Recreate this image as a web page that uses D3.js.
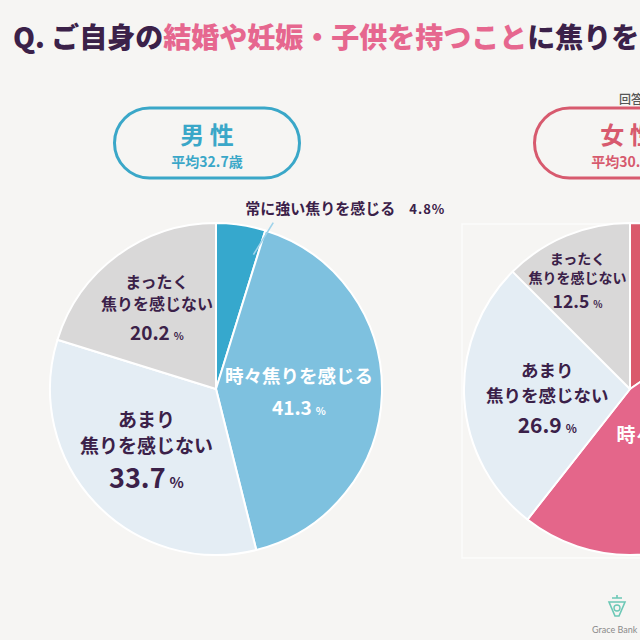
<!DOCTYPE html>
<html><head><meta charset="utf-8">
<script src="https://cdn.jsdelivr.net/npm/d3@7/dist/d3.min.js"></script>
<style>
html,body{margin:0;padding:0;background:#f6f5f3;}
svg{display:block;font-family:"Noto Sans CJK JP","Noto Sans",sans-serif;}
</style></head><body>
<svg id="c" width="640" height="640"></svg>
<script>
// ---- data ----
const categories = ["常に強い焦りを感じる", "時々焦りを感じる", "あまり焦りを感じない", "まったく焦りを感じない"];
const maleValues = [4.8, 41.3, 33.7, 20.2];
const femaleValues = [15.4, 45.2, 26.9, 12.5];
const groupNames = ["男 性", "女 性"];
const groupAges = ["平均32.7歳", "平均30.4歳"];

// ---- styles ----
const bg = "#f6f5f3";
const textDark = "#3b2149";
const maleColors = ["#36a8cd", "#7ec1df", "#e4edf4", "#d9d8d8"];
const femaleColors = ["#da5a6c", "#e4668a", "#e4edf4", "#d9d8d8"];
const W = 640, H = 640;
const svg = d3.select("#c");
svg.append("rect").attr("width", W).attr("height", H).attr("fill", bg);

// Title
const title = svg.append("text").attr("x", 13).attr("y", 48)
  .attr("font-size", 28).attr("font-weight", 900).attr("fill", textDark);
title.append("tspan").text("Q. ご自身の");
title.append("tspan").attr("fill", "#e6678f").text("結婚や妊娠・子供を持つこと");
title.append("tspan").text("に焦りを");

svg.append("text").attr("x", 619).attr("y", 104).attr("font-size", 12)
  .attr("font-weight", 500).attr("fill", "#555").text("回答");

// female panel faint outline
svg.append("rect").attr("x", 462).attr("y", 224).attr("width", 260).attr("height", 334)
  .attr("fill", "none").attr("stroke", "#fcfcfb").attr("stroke-width", 1.5);

const R = 166;
const pie = d3.pie().sort(null).value(d => d);
const arc = d3.arc().innerRadius(0).outerRadius(R);

function drawGroup(cx, cy, values, colors, headerCx, headerColor, idx, labelCfg) {
  const g = svg.append("g").attr("transform", `translate(${cx},${cy})`);
  const arcs = pie(values);
  g.selectAll("path").data(arcs).join("path")
    .attr("d", arc).attr("fill", (d, i) => colors[i])
    .attr("stroke", "#ffffff").attr("stroke-width", 2).attr("stroke-linejoin", "round");

  // header pill
  const pw = 185, ph = 70;
  svg.append("rect").attr("x", headerCx - pw / 2).attr("y", 108).attr("width", pw).attr("height", ph)
    .attr("rx", 35).attr("fill", "none").attr("stroke", headerColor).attr("stroke-width", 3);
  svg.append("text").attr("x", headerCx).attr("y", 144).attr("text-anchor", "middle")
    .attr("font-size", 24).attr("font-weight", 700).attr("fill", headerColor).text(groupNames[idx]);
  svg.append("text").attr("x", headerCx).attr("y", 167).attr("text-anchor", "middle")
    .attr("font-size", 14).attr("font-weight", 700).attr("fill", headerColor).text(groupAges[idx]);

  // labels inside slices
  arcs.forEach((d, i) => {
    const cfg = labelCfg[i];
    if (!cfg) return;
    const a = (d.startAngle + d.endAngle) / 2;
    const r = R * cfg.r;
    const x = r * Math.sin(a) + (cfg.dx || 0), y = -r * Math.cos(a) + (cfg.dy || 0);
    const t = g.append("g").attr("transform", `translate(${x},${y})`);
    const lines = cfg.lines;
    lines.forEach((ln, k) => {
      t.append("text").attr("x", 0).attr("y", cfg.ys[k]).attr("text-anchor", "middle")
        .attr("font-size", cfg.fs).attr("font-weight", 700).attr("fill", cfg.color).text(ln);
    });
    const v = t.append("text").attr("x", 0).attr("y", cfg.ys[lines.length])
      .attr("text-anchor", "middle").attr("font-weight", 700).attr("fill", cfg.color);
    v.append("tspan").attr("font-size", cfg.vfs).text(d.data.toFixed(1));
    v.append("tspan").attr("font-size", cfg.vfs * 0.55).attr("dx", 4).text("%");
  });
  return { g, arcs };
}

// male
const male = drawGroup(216, 389, maleValues, maleColors, 207, "#3aa7c8", 0, [
  null,
  { r: 0.5, dx: 0, dy: 2, lines: ["時々焦りを感じる"], ys: [-10, 22], fs: 18.5, vfs: 19, color: "#ffffff" },
  { r: 0.56, dx: -2, dy: -4, lines: ["あまり", "焦りを感じない"], ys: [-22, 4, 39], fs: 19, vfs: 27, color: textDark },
  { r: 0.57, dx: -3, dy: -6, lines: ["まったく", "焦りを感じない"], ys: [-19, 3, 33], fs: 16, vfs: 19, color: textDark }
]);

// male outside label with leader
{
  const d = male.arcs[0];
  const a1 = d.endAngle - 0.03, a2 = d.endAngle + 0.03;
  const p1 = [R * 0.84 * Math.sin(a1), -R * 0.84 * Math.cos(a1)];
  const p2 = [R * 1.06 * Math.sin(a2), -R * 1.06 * Math.cos(a2)];
  male.g.append("line").attr("x1", p1[0]).attr("y1", p1[1]).attr("x2", p2[0]).attr("y2", p2[1])
    .attr("stroke", "#9fd3ea").attr("stroke-width", 1.6);
  const lt = male.g.append("text").attr("x", p2[0] - 28).attr("y", p2[1] - 9)
    .attr("font-size", 15).attr("font-weight", 700).attr("fill", textDark);
  lt.append("tspan").text(categories[0]);
  lt.append("tspan").attr("dx", 14).attr("font-size", 13).attr("letter-spacing", 1).text(d.data.toFixed(1) + "%");
}

// female
drawGroup(630, 389, femaleValues, femaleColors, 627, "#d75a6e", 1, [
  null,
  { r: 0.55, dx: 0, dy: -10, lines: ["時々焦りを感じる"], ys: [-4, 28], fs: 19, vfs: 24, color: "#ffffff" },
  { r: 0.56, dx: 10, dy: 0, lines: ["あまり", "焦りを感じない"], ys: [-18, 7, 38], fs: 17.5, vfs: 21, color: textDark },
  { r: 0.7, dx: -8, dy: -2, lines: ["まったく", "焦りを感じない"], ys: [-16, 3, 28], fs: 14, vfs: 17.5, color: textDark }
]);

// logo
{
  const lg = svg.append("g").attr("transform", "translate(617,607)");
  lg.append("path").attr("d", "M-8,-5 L8,-5 L2,9 L-2,9 Z").attr("fill", "none").attr("stroke", "#6cc8b6").attr("stroke-width", 1.6);
  lg.append("path").attr("d", "M-5,-9 L5,-9 M0,-12 L0,-9").attr("stroke", "#6cc8b6").attr("stroke-width", 1.6);
  lg.append("circle").attr("cx", 0).attr("cy", 1).attr("r", 3).attr("fill", "none").attr("stroke", "#6cc8b6").attr("stroke-width", 1.4);
  svg.append("text").attr("x", 592).attr("y", 633).attr("font-size", 9).attr("fill", "#8a8a8a")
    .attr("font-family", "Lato, sans-serif").text("Grace Bank");
}
</script>
</body></html>
